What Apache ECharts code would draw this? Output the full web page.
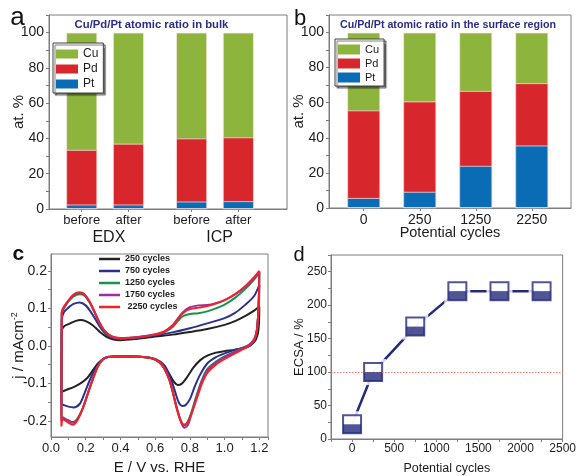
<!DOCTYPE html>
<html><head><meta charset="utf-8">
<script src="https://cdn.jsdelivr.net/npm/echarts@6/dist/echarts.min.js"></script>
<style>html,body{margin:0;padding:0;background:#fff}#c{width:579px;height:476px}</style>
</head><body><div id="c"></div>
<script>
// ---------- data ----------
const bulkCats = ['before', 'after', 'before', 'after'];
const bulkGroups = ['EDX', 'ICP'];
const bulkPt = [2.5, 2.5, 4.2, 4.4];
const bulkPd = [31.0, 34.5, 35.8, 36.2];
const bulkCu = [66.5, 63.0, 60.0, 59.4];

const surfCats = ['0', '250', '1250', '2250'];
const surfPt = [5.7, 9.2, 24.0, 35.6];
const surfPd = [49.9, 51.5, 42.7, 35.5];
const surfCu = [44.4, 39.3, 33.3, 28.9];

const cvNames = ['250 cycles', '750 cycles', '1250 cycles', '1750 cycles', ' 2250 cycles'];
const cv250 = [[0.06,-0.125],[0.062,0.04],[0.075,0.052],[0.1,0.058],[0.14,0.066],[0.17,0.069],[0.2,0.066],[0.24,0.055],[0.28,0.038],[0.32,0.024],[0.36,0.017],[0.4,0.015],[0.5,0.019],[0.6,0.025],[0.7,0.03],[0.8,0.037],[0.9,0.045],[1.0,0.056],[1.06,0.066],[1.12,0.08],[1.17,0.094],[1.2,0.105],
  [1.198,0.06],[1.19,0.03],[1.17,0.01],[1.13,-0.003],[1.06,-0.01],[1.0,-0.014],[0.95,-0.018],[0.9,-0.026],[0.86,-0.038],[0.82,-0.058],[0.78,-0.086],[0.75,-0.102],[0.73,-0.104],[0.71,-0.097],[0.69,-0.082],[0.66,-0.06],[0.62,-0.042],[0.58,-0.033],[0.5,-0.029],[0.4,-0.028],[0.33,-0.03],[0.3,-0.035],[0.27,-0.047],[0.24,-0.066],[0.21,-0.085],[0.17,-0.1],[0.13,-0.11],[0.09,-0.117],[0.07,-0.121],[0.06,-0.125]];
const cv750 = [[0.06,-0.155],[0.062,0.07],[0.075,0.09],[0.1,0.102],[0.13,0.112],[0.165,0.116],[0.2,0.108],[0.23,0.09],[0.26,0.068],[0.29,0.045],[0.32,0.03],[0.36,0.02],[0.4,0.018],[0.5,0.021],[0.6,0.028],[0.7,0.036],[0.8,0.047],[0.9,0.06],[1.0,0.074],[1.06,0.088],[1.12,0.11],[1.17,0.133],[1.2,0.163],
  [1.198,0.11],[1.19,0.06],[1.18,0.025],[1.15,0.002],[1.1,-0.006],[1.05,-0.012],[1.0,-0.02],[0.95,-0.03],[0.9,-0.047],[0.86,-0.076],[0.83,-0.106],[0.8,-0.142],[0.775,-0.158],[0.755,-0.16],[0.735,-0.15],[0.71,-0.115],[0.68,-0.075],[0.65,-0.05],[0.6,-0.035],[0.55,-0.03],[0.45,-0.028],[0.35,-0.028],[0.31,-0.032],[0.28,-0.045],[0.25,-0.065],[0.22,-0.095],[0.19,-0.13],[0.165,-0.155],[0.13,-0.164],[0.1,-0.162],[0.075,-0.158],[0.06,-0.155]];
const cv1250 = [[0.06,-0.19],[0.062,0.085],[0.075,0.1],[0.1,0.118],[0.13,0.132],[0.165,0.138],[0.19,0.135],[0.22,0.118],[0.25,0.09],[0.28,0.06],[0.31,0.038],[0.35,0.024],[0.4,0.02],[0.5,0.023],[0.6,0.03],[0.65,0.036],[0.7,0.05],[0.73,0.066],[0.76,0.079],[0.8,0.085],[0.85,0.087],[0.9,0.092],[0.95,0.1],[1.0,0.11],[1.06,0.128],[1.12,0.152],[1.17,0.177],[1.2,0.195],
  [1.198,0.14],[1.193,0.08],[1.185,0.04],[1.17,0.018],[1.14,0.003],[1.1,-0.006],[1.06,-0.015],[1.0,-0.028],[0.95,-0.042],[0.9,-0.062],[0.87,-0.09],[0.84,-0.13],[0.81,-0.175],[0.785,-0.205],[0.77,-0.212],[0.75,-0.202],[0.725,-0.165],[0.7,-0.12],[0.68,-0.088],[0.65,-0.058],[0.62,-0.042],[0.58,-0.033],[0.5,-0.029],[0.4,-0.028],[0.33,-0.03],[0.3,-0.036],[0.27,-0.055],[0.24,-0.09],[0.21,-0.13],[0.18,-0.17],[0.15,-0.195],[0.125,-0.203],[0.1,-0.2],[0.08,-0.194],[0.068,-0.19],[0.06,-0.19]];
const cv1750 = [[0.06,-0.2],[0.062,0.088],[0.075,0.103],[0.1,0.12],[0.13,0.135],[0.165,0.141],[0.19,0.137],[0.22,0.119],[0.25,0.091],[0.28,0.061],[0.31,0.039],[0.35,0.025],[0.4,0.021],[0.5,0.024],[0.6,0.031],[0.65,0.038],[0.7,0.055],[0.73,0.073],[0.76,0.09],[0.8,0.103],[0.85,0.108],[0.9,0.109],[0.95,0.114],[1.0,0.122],[1.06,0.137],[1.12,0.158],[1.17,0.181],[1.2,0.197],
  [1.198,0.14],[1.193,0.08],[1.185,0.04],[1.17,0.017],[1.14,0.002],[1.1,-0.007],[1.06,-0.016],[1.0,-0.03],[0.95,-0.045],[0.9,-0.066],[0.87,-0.094],[0.84,-0.134],[0.81,-0.18],[0.79,-0.21],[0.77,-0.218],[0.75,-0.205],[0.725,-0.167],[0.7,-0.12],[0.68,-0.088],[0.65,-0.058],[0.62,-0.042],[0.58,-0.033],[0.5,-0.028],[0.4,-0.027],[0.33,-0.029],[0.3,-0.035],[0.27,-0.054],[0.24,-0.089],[0.21,-0.13],[0.18,-0.17],[0.15,-0.197],[0.125,-0.205],[0.1,-0.198],[0.08,-0.196],[0.068,-0.195],[0.06,-0.2]];
const cv2250 = [[0.06,-0.215],[0.062,0.09],[0.075,0.105],[0.1,0.121],[0.13,0.137],[0.165,0.143],[0.19,0.139],[0.22,0.12],[0.25,0.092],[0.28,0.062],[0.31,0.04],[0.35,0.025],[0.4,0.02],[0.5,0.023],[0.6,0.03],[0.65,0.037],[0.7,0.053],[0.73,0.07],[0.76,0.087],[0.8,0.098],[0.85,0.102],[0.9,0.106],[0.95,0.113],[1.0,0.122],[1.06,0.138],[1.12,0.16],[1.17,0.183],[1.2,0.2],
  [1.198,0.14],[1.193,0.08],[1.185,0.04],[1.17,0.015],[1.14,0.0],[1.1,-0.01],[1.06,-0.02],[1.0,-0.035],[0.95,-0.05],[0.9,-0.072],[0.87,-0.1],[0.84,-0.14],[0.81,-0.18],[0.785,-0.205],[0.765,-0.21],[0.745,-0.197],[0.72,-0.16],[0.7,-0.12],[0.68,-0.088],[0.65,-0.058],[0.62,-0.042],[0.58,-0.033],[0.5,-0.029],[0.4,-0.028],[0.33,-0.03],[0.3,-0.036],[0.27,-0.055],[0.24,-0.09],[0.21,-0.13],[0.18,-0.17],[0.15,-0.2],[0.125,-0.21],[0.1,-0.205],[0.08,-0.198],[0.068,-0.195],[0.062,-0.205],[0.06,-0.215]];
const cvData = [cv250, cv750, cv1250, cv1750, cv2250];

const ecsaCycles = [0, 250, 750, 1250, 1750, 2250];
const ecsaValues = [22, 100, 168, 221, 221, 221];

const cYTicks = [-0.2, -0.15, -0.1, -0.05, 0, 0.05, 0.1, 0.15, 0.2];
const cYLabels = [-0.2, -0.1, 0, 0.1, 0.2];

// ---------- style ----------
const FONT = '"Liberation Sans", Arial, Helvetica, sans-serif';
const AX = '#7d7d7d', TX = '#1c1c1c';
const CU = '#8db43c', PD = '#d8262d', PT = '#0b6cb6';
const NAVY = '#232a7a', TITLE = '#2b2d86';
const cvColors = ['#222222', '#2d2f8e', '#17934a', '#9a2fa0', '#f2222a'];

// layout helpers
const aPos = bulkCats.map((c, i) => i + (i >= 2 ? 0.35 : 0));
const aGroupPos = [0.58, 2.95];
const bPos = surfCats.map((c, i) => i);

function cumul(a, b) { return a.map((v, i) => v + b[i]); }
const aPdTop = cumul(bulkPt, bulkPd), aCuTop = cumul(aPdTop, bulkCu);
const bPdTop = cumul(surfPt, surfPd), bCuTop = cumul(bPdTop, surfCu);

function axBase(extra) {
  const base = {
    type: 'value',
    axisLine: { show: true, onZero: false, lineStyle: { color: AX, width: 1 } },
    axisTick: { show: true, length: 3, lineStyle: { color: AX } },
    splitLine: { show: false },
    axisLabel: { color: TX, fontFamily: FONT },
    nameLocation: 'middle',
    nameMoveOverlap: false,
    nameTextStyle: { color: TX, fontFamily: FONT }
  };
  for (const k in extra) {
    if (base[k] && typeof base[k] === 'object' && typeof extra[k] === 'object' && !Array.isArray(extra[k])) base[k] = Object.assign({}, base[k], extra[k]);
    else base[k] = extra[k];
  }
  return base;
}
const gridBase = { show: true, borderColor: AX, borderWidth: 1, backgroundColor: 'rgba(0,0,0,0)', containLabel: false };

function barSeries(name, color, pos, tops, xi, yi, w) {
  return {
    type: 'bar', name, xAxisIndex: xi, yAxisIndex: yi,
    data: pos.map((p, i) => [p, tops[i]]), barWidth: w, barGap: '-100%',
    itemStyle: { color, borderColor: 'rgba(255,232,232,0.9)', borderWidth: 0.8 },
    silent: true
  };
}

const series = [];
// panel a
series.push(barSeries('Cu', CU, aPos, aCuTop, 0, 0, 31));
series.push(barSeries('Pd', PD, aPos, aPdTop, 0, 0, 31));
series.push(barSeries('Pt', PT, aPos, bulkPt, 0, 0, 31));
// panel b
series.push(barSeries('Cu', CU, bPos, bCuTop, 2, 1, 33));
series.push(barSeries('Pd', PD, bPos, bPdTop, 2, 1, 33));
series.push(barSeries('Pt', PT, bPos, surfPt, 2, 1, 33));
// panel c
cvData.forEach((d, i) => series.push({
  type: 'line', name: cvNames[i], xAxisIndex: 3, yAxisIndex: 2, data: d,
  smooth: 0.3, symbol: 'none', lineStyle: { color: cvColors[i], width: 2 }, itemStyle: { color: cvColors[i] },
  silent: true
}));
// panel d
const ecsaPairs = ecsaCycles.map((c, i) => [c, ecsaValues[i]]);
series.push({
  type: 'line', xAxisIndex: 4, yAxisIndex: 3, data: ecsaPairs, symbol: 'none', z: 2,
  lineStyle: { color: NAVY, width: 2.5 }, silent: true,
  markLine: { silent: true, symbol: ['none', 'none'], label: { show: false },
    lineStyle: { type: [1.5, 1.5], color: '#f26b5b', width: 1, opacity: 0.9 }, data: [{ yAxis: 100 }] }
});
series.push({ type: 'scatter', xAxisIndex: 4, yAxisIndex: 3, data: ecsaPairs, symbol: 'rect', symbolSize: 26, z: 3, silent: true, itemStyle: { color: '#fff' } });
series.push({ type: 'scatter', xAxisIndex: 4, yAxisIndex: 3, data: ecsaPairs, symbol: 'rect', symbolSize: 18, z: 4, silent: true, itemStyle: { color: '#fff', borderColor: NAVY, borderWidth: 2 } });
series.push({ type: 'scatter', xAxisIndex: 4, yAxisIndex: 3, data: ecsaPairs, symbol: 'rect', symbolSize: [18, 9], symbolOffset: [0, 4.5], z: 5, silent: true, itemStyle: { color: NAVY } });

const pctLabel = v => (v % 20 === 0 && v <= 100) ? String(v) : '';

const option = {
  animation: false,
  backgroundColor: '#fff',
  textStyle: { fontFamily: FONT },
  grid: [
    Object.assign({ left: 49, top: 15, width: 238, height: 194 }, gridBase),
    Object.assign({ left: 329, top: 15, width: 242, height: 193 }, gridBase),
    Object.assign({ left: 51, top: 254, width: 217, height: 186 }, gridBase),
    Object.assign({ left: 331, top: 255, width: 235, height: 188 }, gridBase)
  ],
  xAxis: [
    axBase({ gridIndex: 0, min: -0.7, max: 4.39,
      axisTick: { customValues: aPos },
      axisLabel: { customValues: aPos, fontSize: 13, margin: 5,
        formatter: v => { const i = aPos.findIndex(p => Math.abs(p - v) < 1e-6); return i >= 0 ? bulkCats[i] : ''; } } }),
    axBase({ gridIndex: 0, min: -0.7, max: 4.39, position: 'bottom',
      axisLine: { show: false }, axisTick: { show: false },
      axisLabel: { customValues: aGroupPos, fontSize: 16, margin: 21,
        formatter: v => { const i = aGroupPos.findIndex(p => Math.abs(p - v) < 1e-6); return i >= 0 ? bulkGroups[i] : ''; } } }),
    axBase({ gridIndex: 1, min: -0.62, max: 3.70,
      axisTick: { customValues: bPos },
      axisLabel: { customValues: bPos, fontSize: 14, margin: 5,
        formatter: v => { const i = bPos.findIndex(p => Math.abs(p - v) < 1e-6); return i >= 0 ? surfCats[i] : ''; } },
      name: 'Potential cycles', nameGap: 17, nameTextStyle: { fontSize: 14.5 } }),
    axBase({ gridIndex: 2, min: 0, max: 1.25, interval: 0.1,
      axisLabel: { fontSize: 13, margin: 5,
        formatter: v => { const r = Math.round(v * 10); return (Math.abs(v * 10 - r) < 1e-6 && r % 2 === 0) ? (r / 10).toFixed(1) : ''; } },
      name: 'E / V vs. RHE', nameGap: 23, nameTextStyle: { fontSize: 15 } }),
    axBase({ gridIndex: 3, min: -250, max: 2500, interval: 250,
      axisLabel: { fontSize: 12, margin: 4, formatter: v => (v >= 0 && v % 500 === 0) ? String(v) : '' },
      name: 'Potential cycles', nameGap: 23, nameTextStyle: { fontSize: 12.5 } })
  ],
  yAxis: [
    axBase({ gridIndex: 0, min: 0, max: 110, interval: 10,
      axisLabel: { fontSize: 14, margin: 5, formatter: pctLabel },
      name: 'at. %', nameGap: 23, nameTextStyle: { fontSize: 15 } }),
    axBase({ gridIndex: 1, min: 0, max: 110, interval: 10,
      axisLabel: { fontSize: 14, margin: 5, formatter: pctLabel },
      name: 'at. %', nameGap: 23, nameTextStyle: { fontSize: 15 } }),
    axBase({ gridIndex: 2, min: -0.243, max: 0.245,
      axisTick: { customValues: cYTicks },
      axisLabel: { customValues: cYLabels, fontSize: 14, margin: 4, formatter: v => v.toFixed(1) },
      name: '{a|j / mAcm}{b|-2}', nameGap: 23,
      nameTextStyle: { rich: { a: { fontSize: 15, color: TX, fontFamily: FONT, lineHeight: 18 },
        b: { fontSize: 9, color: TX, fontFamily: FONT, verticalAlign: 'top', lineHeight: 18 } } } }),
    axBase({ gridIndex: 3, min: 0, max: 275, interval: 25,
      axisLabel: { fontSize: 12, margin: 4, formatter: v => (v % 50 === 0 && v < 275) ? String(v) : '' },
      name: 'ECSA / %', nameGap: 25, nameTextStyle: { fontSize: 13 } })
  ],
  legend: [
    { left: 53, top: 43, orient: 'vertical', data: ['Cu', 'Pd', 'Pt'], icon: 'rect',
      itemWidth: 22, itemHeight: 9, itemGap: 3, padding: [5, 5, 3, 3],
      backgroundColor: '#fff', borderColor: '#444', borderWidth: 1,
      shadowColor: 'rgba(0,0,0,0.55)', shadowOffsetX: 2, shadowOffsetY: 2, shadowBlur: 1,
      itemStyle: { borderWidth: 0 }, selectedMode: false,
      textStyle: { fontSize: 12, color: TX, fontFamily: FONT, lineHeight: 12 } },
    { left: 335, top: 39, orient: 'vertical', data: ['Cu', 'Pd', 'Pt'], icon: 'rect',
      itemWidth: 22, itemHeight: 10, itemGap: 3, padding: [5, 5, 3, 3],
      backgroundColor: '#fff', borderColor: '#444', borderWidth: 1,
      shadowColor: 'rgba(0,0,0,0.55)', shadowOffsetX: 2, shadowOffsetY: 2, shadowBlur: 1,
      itemStyle: { borderWidth: 0 }, selectedMode: false,
      textStyle: { fontSize: 11, color: TX, fontFamily: FONT, lineHeight: 11 } },
    { left: 99, top: 253, orient: 'vertical', data: cvNames, icon: 'rect',
      itemWidth: 21, itemHeight: 2.5, itemGap: 0, padding: 0, selectedMode: false,
      itemStyle: { borderWidth: 0 },
      textStyle: { fontSize: 9, fontWeight: 'bold', color: TX, fontFamily: FONT, lineHeight: 12 } }
  ],
  graphic: [
    { type: 'text', x: 17.5, y: 17.7, silent: true, style: { text: 'a', fontSize: 26, fontFamily: FONT, fill: '#111', align: 'center', verticalAlign: 'middle' } },
    { type: 'text', x: 300, y: 19, silent: true, style: { text: 'b', fontSize: 22, fontFamily: FONT, fill: '#111', align: 'center', verticalAlign: 'middle' } },
    { type: 'text', x: 18.3, y: 254, silent: true, style: { text: 'c', fontSize: 21, fontWeight: 'bold', fontFamily: FONT, fill: '#111', align: 'center', verticalAlign: 'middle' } },
    { type: 'text', x: 299, y: 255.5, silent: true, style: { text: 'd', fontSize: 20, fontFamily: FONT, fill: '#111', align: 'center', verticalAlign: 'middle' } },
    { type: 'text', x: 151.5, y: 25, silent: true, style: { text: 'Cu/Pd/Pt atomic ratio in bulk', fontSize: 11.3, fontWeight: 'bold', fontFamily: FONT, fill: TITLE, align: 'center', verticalAlign: 'middle' } },
    { type: 'text', x: 448, y: 25, silent: true, style: { text: 'Cu/Pd/Pt atomic ratio in the surface region', fontSize: 10.7, fontWeight: 'bold', fontFamily: FONT, fill: TITLE, align: 'center', verticalAlign: 'middle' } }
  ],
  series
};

const chart = echarts.init(document.getElementById('c'), null, { renderer: 'canvas' });
chart.setOption(option);
</script>
</body></html>
